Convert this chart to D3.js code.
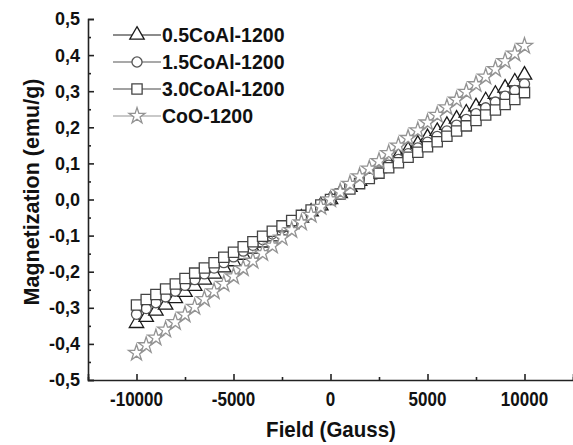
<!DOCTYPE html>
<html>
<head>
<meta charset="utf-8">
<script src="https://cdn.jsdelivr.net/npm/d3@7"></script>
<style>
  body { margin: 0; background: #fff; }
  svg { display: block; }
  text { font-family: "Liberation Sans", Arial, sans-serif; font-weight: bold; fill: #111; }
</style>
</head>
<body>
<div id="viz"></div>
<script>
const field = [-10000, -9500, -9000, -8500, -8000, -7500, -7000, -6500, -6000, -5500,
  -5000, -4500, -4000, -3500, -3000, -2500, -2000, -1500, -1000, -500, 0,
  500, 1000, 1500, 2000, 2500, 3000, 3500, 4000, 4500, 5000,
  5500, 6000, 6500, 7000, 7500, 8000, 8500, 9000, 9500, 10000];

const coal05 = [-0.343, -0.326, -0.309, -0.292, -0.274, -0.257, -0.240, -0.223, -0.206, -0.189,
  -0.172, -0.154, -0.137, -0.120, -0.103, -0.086, -0.069, -0.051, -0.034, -0.017, 0.000,
  0.017, 0.034, 0.051, 0.069, 0.086, 0.103, 0.120, 0.137, 0.154, 0.172,
  0.189, 0.206, 0.223, 0.240, 0.257, 0.274, 0.292, 0.309, 0.326, 0.345];

const coal15 = [-0.318, -0.302, -0.286, -0.270, -0.254, -0.238, -0.222, -0.206, -0.190, -0.175,
  -0.159, -0.143, -0.127, -0.111, -0.095, -0.079, -0.063, -0.048, -0.032, -0.016, 0.000,
  0.016, 0.032, 0.048, 0.063, 0.079, 0.095, 0.111, 0.127, 0.143, 0.159,
  0.175, 0.190, 0.206, 0.222, 0.238, 0.254, 0.270, 0.286, 0.302, 0.320];

const coal30 = [-0.292, -0.277, -0.263, -0.248, -0.234, -0.219, -0.204, -0.190, -0.175, -0.160,
  -0.146, -0.131, -0.117, -0.102, -0.088, -0.073, -0.058, -0.044, -0.029, -0.015, 0.000,
  0.015, 0.029, 0.044, 0.058, 0.073, 0.088, 0.102, 0.117, 0.131, 0.146,
  0.160, 0.175, 0.190, 0.204, 0.219, 0.234, 0.248, 0.263, 0.277, 0.296];

const coo = [-0.425, -0.404, -0.383, -0.361, -0.340, -0.319, -0.298, -0.276, -0.255, -0.234,
  -0.213, -0.191, -0.170, -0.149, -0.128, -0.106, -0.085, -0.064, -0.043, -0.021, 0.000,
  0.021, 0.043, 0.064, 0.085, 0.106, 0.128, 0.149, 0.170, 0.191, 0.213,
  0.234, 0.255, 0.276, 0.298, 0.319, 0.340, 0.361, 0.383, 0.404, 0.425];

const seriesNames = ['0.5CoAl-1200', '1.5CoAl-1200', '3.0CoAl-1200', 'CoO-1200'];
const xTicks = [-10000, -5000, 0, 5000, 10000];
const yTicks = [-0.5, -0.4, -0.3, -0.2, -0.1, 0.0, 0.1, 0.2, 0.3, 0.4, 0.5];

const width = 573;
const height = 445;

const series = [
  { name: seriesNames[0], values: coal05, symbol: d3.symbolTriangle, size: 90, color: '#1a1a1a' },
  { name: seriesNames[1], values: coal15, symbol: d3.symbolCircle, size: 80, color: '#555' },
  { name: seriesNames[2], values: coal30, symbol: d3.symbolSquare, size: 105, color: '#444' },
  { name: seriesNames[3], values: coo, symbol: d3.symbolStar, size: 80, color: '#939393' }
];

const x = d3.scaleLinear().domain([-12500, 12500]).range([88, 573]);
const y = d3.scaleLinear().domain([-0.5, 0.5]).range([380, 19]);

const svg = d3.select('#viz')
  .append('svg')
  .attr('width', width)
  .attr('height', height);

// axes: ticks point inward, minor ticks between majors
const fmtY = (d) => d3.format('.1f')(d).replace('.', ',').replace('−', '-');

svg.append('g')
  .attr('transform', `translate(${x.range()[0]},0)`)
  .call(d3.axisRight(y).tickValues(yTicks).tickSize(6).tickFormat(''));
svg.append('g')
  .attr('transform', `translate(${x.range()[0]},0)`)
  .call(d3.axisRight(y).tickValues(d3.range(-0.45, 0.5, 0.1)).tickSize(3).tickFormat(''))
  .select('.domain').remove();

svg.append('g')
  .attr('transform', `translate(0,${y.range()[0]})`)
  .call(d3.axisTop(x).tickValues(xTicks).tickSize(6).tickFormat(''));
svg.append('g')
  .attr('transform', `translate(0,${y.range()[0]})`)
  .call(d3.axisTop(x).tickValues([-12500, -7500, -2500, 2500, 7500, 12500]).tickSize(3).tickFormat(''))
  .select('.domain').remove();

svg.selectAll('.domain').attr('stroke', '#222').attr('stroke-width', 1.6);
svg.selectAll('.tick line').attr('stroke', '#222').attr('stroke-width', 1.6);

svg.append('g').selectAll('text').data(yTicks)
  .enter().append('text')
    .attr('x', 80)
    .attr('y', (d) => y(d))
    .attr('dy', '0.36em')
    .attr('text-anchor', 'end')
    .style('font-size', '18px')
    .text(fmtY);

// x tick labels are slightly stretched vertically in the original
svg.append('g').selectAll('text').data(xTicks)
  .enter().append('text')
    .attr('transform', (d) => `translate(${x(d)},406) scale(1,1.22)`)
    .attr('text-anchor', 'middle')
    .style('font-size', '17px')
    .text((d) => d);

svg.append('text')
  .attr('transform', 'translate(331,437) scale(1,1.12)')
  .attr('text-anchor', 'middle')
  .style('font-size', '20.5px')
  .text('Field (Gauss)');

svg.append('text')
  .attr('transform', 'translate(39,192) rotate(-90)')
  .attr('text-anchor', 'middle')
  .style('font-size', '21.5px')
  .text('Magnetization (emu/g)');

// data
const line = d3.line().x((d) => x(d[0])).y((d) => y(d[1]));

const plot = svg.append('g');
series.forEach((s) => {
  const pts = field.map((f, i) => [f, s.values[i]]);
  plot.append('path')
    .attr('d', line(pts))
    .attr('fill', 'none')
    .attr('stroke', s.color)
    .attr('stroke-width', 1.2);
  plot.append('g').selectAll('path').data(pts)
    .enter().append('path')
      .attr('transform', (d) => `translate(${x(d[0])},${y(d[1])})`)
      .attr('d', d3.symbol(s.symbol, s.size))
      .attr('fill', '#fff')
      .attr('stroke', s.color)
      .attr('stroke-width', 1.3);
});

// legend
const legend = svg.append('g').selectAll('g').data(series)
  .enter().append('g')
    .attr('transform', (d, i) => `translate(113,${35 + i * 27})`);
legend.append('line')
  .attr('x1', 0).attr('x2', 48)
  .attr('stroke', (d) => d.color)
  .attr('stroke-width', 1.2);
legend.append('path')
  .attr('transform', 'translate(24,0)')
  .attr('d', (d) => d3.symbol(d.symbol, d.size)())
  .attr('fill', '#fff')
  .attr('stroke', (d) => d.color)
  .attr('stroke-width', 1.3);
legend.append('text')
  .attr('x', 49)
  .attr('dy', '0.36em')
  .style('font-size', '19.5px')
  .text((d) => d.name);
</script>
</body>
</html>
